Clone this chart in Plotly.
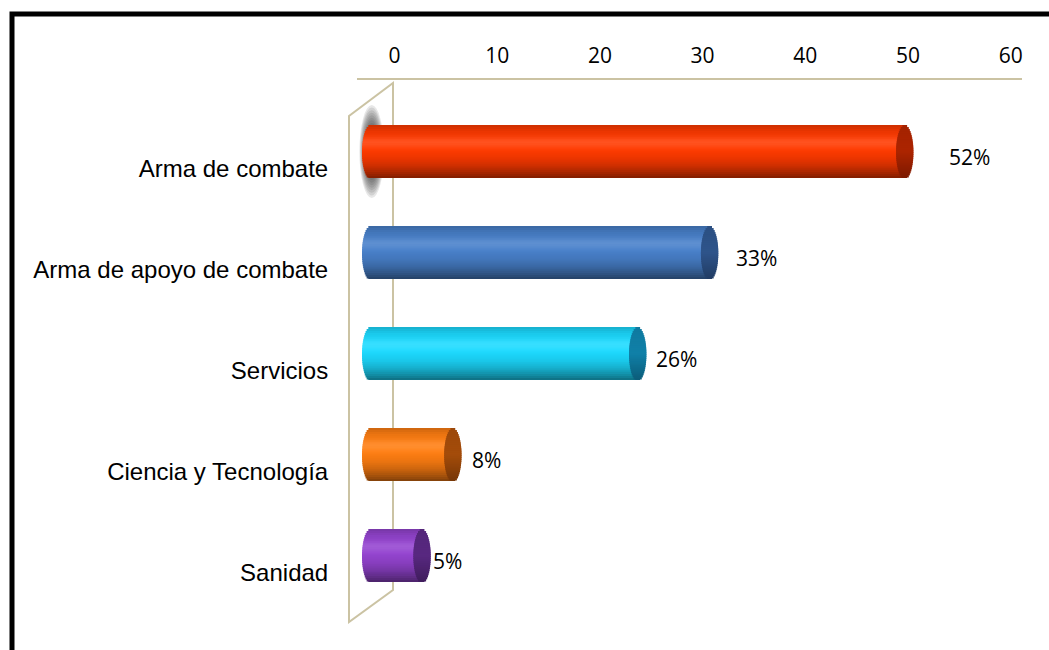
import math
import plotly.graph_objects as go

# ---- data -------------------------------------------------------------
categories = ["Arma de combate", "Arma de apoyo de combate", "Servicios",
              "Ciencia y Tecnología", "Sanidad"]
percent = [52, 33, 26, 8, 5]
x_ticks = [0, 10, 20, 30, 40, 50, 60]

# ---- styling ----------------------------------------------------------
body_colors = [(255, 58, 0), (72, 128, 202), (28, 218, 255), (255, 126, 18), (148, 68, 208)]
cap_colors = [(172, 36, 0), (46, 84, 138), (16, 128, 168), (164, 76, 10), (88, 40, 128)]
label_gap_px = [34, 16, 8, 8, 0]
WALL_COLOR = "#CBC3A3"

W, H = 1049, 650
L, R, T, B = 340, 1030, 79, 640          # plot area in page pixels
PX_PER_UNIT = 10.27
AXIS_ZERO_PX = 394.5                      # value 0 on the back (tick) axis
BAR_ZERO_PX = 370.7                       # value 0 on the front (bar) plane
ROW0_LABEL_PX, ROW0_BAR_PX, ROW_STEP_PX = 169, 151.5, 101
BAR_THICK_PX, CAP_RX_PX = 53, 8.7
N_STRIPS = 26


def px_x(p):
    return (p - L) / (R - L)


def px_y(p):
    return (B - p) / (B - T)


def rgb(c):
    return "rgb(%d,%d,%d)" % tuple(max(0, min(255, round(v))) for v in c)


def interp(knots, t):
    for (t0, v0), (t1, v1) in zip(knots, knots[1:]):
        if t0 <= t <= t1:
            return v0 + (v1 - v0) * (t - t0) / (t1 - t0)
    return knots[-1][1]


BODY_KNOTS = [(0, 0.80), (0.12, 0.92), (0.3, 1.0), (0.45, 1.0), (0.62, 0.93),
              (0.78, 0.80), (0.92, 0.62), (1.0, 0.5)]
CAP_KNOTS = [(0, 0.95), (0.5, 1.0), (1.0, 0.72)]


def body_shade(c, t):
    m = interp(BODY_KNOTS, t)
    hl = 0.12 * math.exp(-((t - 0.33) / 0.1) ** 2)
    return rgb([(v * m) * (1 - hl) + 255 * hl for v in c])


def cap_shade(c, t):
    m = interp(CAP_KNOTS, t)
    return rgb([v * m for v in c])


pos = list(range(len(categories)))
h = BAR_THICK_PX / ROW_STEP_PX
rx = CAP_RX_PX / PX_PER_UNIT
overlap = 1.5 / ROW_STEP_PX

fig = go.Figure()

# invisible anchor so the tick axes are laid out
fig.add_trace(go.Scatter(x=[0], y=[0], mode="markers", marker=dict(opacity=0),
                         hoverinfo="skip", showlegend=False))


def strip_geometry(j):
    t = (j + 0.5) / N_STRIPS
    u = 2 * t - 1
    w = math.sqrt(max(0.0, 1 - u * u))
    off = -h / 2 + j * h / N_STRIPS
    sw = h / N_STRIPS + (overlap if j < N_STRIPS - 1 else 0)
    return t, w, off, sw


# cylinders: each bar is built from thin horizontal strips for the shading,
# with a rounded left end and an elliptical end face at the value
for j in range(N_STRIPS):
    t, w, off, sw = strip_geometry(j)
    fig.add_trace(go.Bar(
        orientation="h", y=pos, x=[v + rx * w for v in percent],
        base=[-rx * w] * len(percent), offset=off, width=sw,
        marker=dict(color=[body_shade(c, t) for c in body_colors], line_width=0),
        xaxis="x2", yaxis="y2", hoverinfo="skip", showlegend=False))
for j in range(N_STRIPS):
    t, w, off, sw = strip_geometry(j)
    fig.add_trace(go.Bar(
        orientation="h", y=pos, x=[2 * rx * w] * len(percent),
        base=[v - rx * w for v in percent], offset=off, width=sw,
        marker=dict(color=[cap_shade(c, t) for c in cap_colors], line_width=0),
        xaxis="x2", yaxis="y2", hoverinfo="skip", showlegend=False))

# value labels
for i, v in enumerate(percent):
    fig.add_annotation(x=v, y=pos[i], xref="x2", yref="y2", text=f"{v}%",
                       showarrow=False, xanchor="left", yanchor="middle",
                       xshift=CAP_RX_PX + label_gap_px[i], yshift=-5,
                       font=dict(family="Open Sans", size=21, color="black"))

shapes = []
# soft shadow behind the left end of the first cylinder
for k in range(16):
    s = 1 - k * 0.055
    shapes.append(dict(type="circle", xref="x2", yref="y2", layer="below",
                       x0=0.1 - 1.2 * s, x1=0.1 + 1.2 * s,
                       y0=pos[0] - 0.46 * s, y1=pos[0] + 0.46 * s,
                       fillcolor="rgba(40,40,40,0.11)", line_width=0))

# back wall outline (3D floor of the value axis)
bx, fx = AXIS_ZERO_PX - 1.5, AXIS_ZERO_PX - 45.5
wall = (f"M {px_x(bx)} {px_y(83)} L {px_x(bx)} {px_y(590)} "
        f"L {px_x(fx)} {px_y(622)} L {px_x(fx)} {px_y(116)} Z")
shapes.append(dict(type="path", xref="paper", yref="paper", path=wall,
                   line=dict(color=WALL_COLOR, width=2), layer="below"))
# top value-axis line
shapes.append(dict(type="line", xref="paper", yref="paper",
                   x0=px_x(357), x1=px_x(1022), y0=1, y1=1,
                   line=dict(color=WALL_COLOR, width=2)))
# outer frame
shapes.append(dict(type="rect", xref="paper", yref="paper",
                   x0=px_x(12), x1=px_x(1070), y0=px_y(14), y1=px_y(680),
                   line=dict(color="black", width=5), fillcolor="rgba(0,0,0,0)"))

k = PX_PER_UNIT
fig.update_layout(
    width=W, height=H,
    margin=dict(l=L, r=W - R, t=T, b=H - B, pad=0),
    paper_bgcolor="white", plot_bgcolor="rgba(0,0,0,0)",
    barmode="overlay", showlegend=False, shapes=shapes,
    xaxis=dict(side="top", range=[(L - AXIS_ZERO_PX) / k, (R - AXIS_ZERO_PX) / k],
               tickvals=x_ticks, ticktext=[str(v) for v in x_ticks],
               ticks="outside", ticklen=7, tickcolor="rgba(0,0,0,0)",
               tickfont=dict(family="Open Sans", size=21, color="black"),
               showgrid=False, zeroline=False, showline=False, fixedrange=True),
    xaxis2=dict(overlaying="x", side="top",
                range=[(L - BAR_ZERO_PX) / k, (R - BAR_ZERO_PX) / k],
                visible=False),
    yaxis=dict(range=[(B - ROW0_LABEL_PX) / ROW_STEP_PX, (T - ROW0_LABEL_PX) / ROW_STEP_PX],
               tickvals=pos, ticktext=categories,
               ticks="outside", ticklen=6, tickcolor="rgba(0,0,0,0)",
               tickfont=dict(family="Liberation Sans, Arial", size=24, color="black"),
               showgrid=False, zeroline=False, showline=False, fixedrange=True),
    yaxis2=dict(overlaying="y",
                range=[(B - ROW0_BAR_PX) / ROW_STEP_PX, (T - ROW0_BAR_PX) / ROW_STEP_PX],
                visible=False),
)

fig.write_html("out.html")
